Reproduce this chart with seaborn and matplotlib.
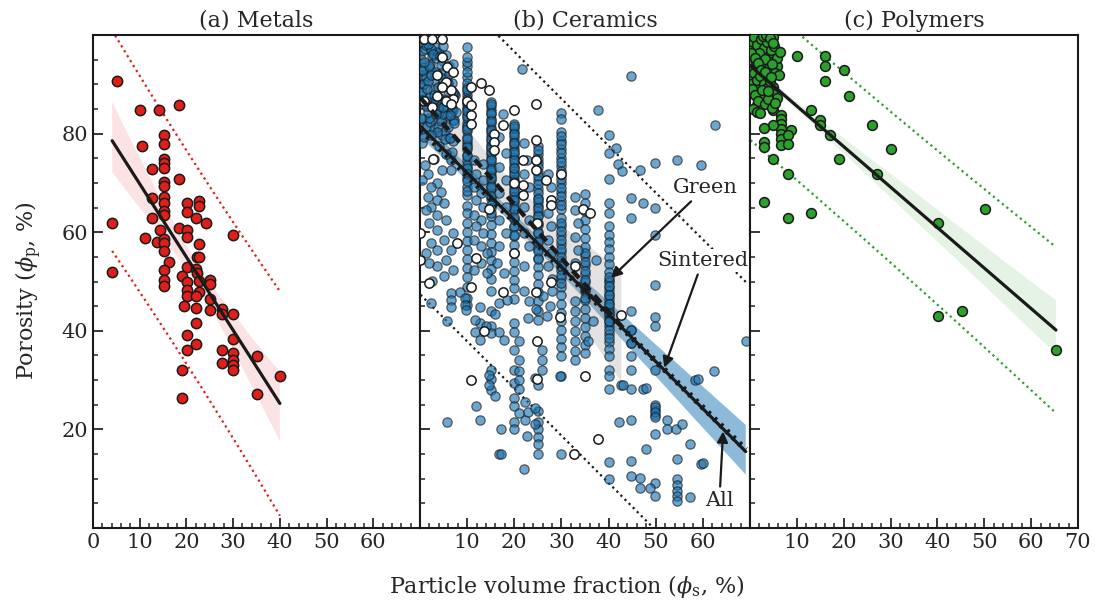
import numpy as np
import matplotlib
matplotlib.use("Agg")
import matplotlib.pyplot as plt
import seaborn as sns
from matplotlib.ticker import MultipleLocator, FixedLocator

sns.set_theme(style="ticks")
plt.rcParams['font.family'] = ['DejaVu Serif']
plt.rcParams['mathtext.fontset'] = 'dejavuserif'

# ---------------- data: (a) Metals ----------------
metals_x = [5.2, 10.1, 14.1, 18.5, 10.5, 15.1, 15.1, 15.1, 15.1, 15.1,
            12.6, 18.5, 15.1, 15.1, 12.6, 15.1, 15.1, 15.1, 15.1, 20.1,
            20.1, 22.6, 22.6, 12.6, 22.1, 24.1, 4.1, 14.3, 18.5, 20.1,
            20.1, 11.1, 13.8, 15.1, 15.1, 15.1, 30.0, 22.6, 22.2, 22.6,
            16.2, 20.1, 22.1, 15.1, 22.2, 19.1, 22.6, 20.1, 25.0, 25.0,
            15.1, 15.1, 20.1, 22.6, 20.1, 22.1, 25.0, 19.4, 22.1, 25.0,
            27.6, 27.6, 30.0, 22.1, 4.1, 20.1, 22.1, 30.0, 20.1, 27.6,
            30.0, 30.0, 35.0, 27.6, 30.0, 30.0, 19.1, 40.0, 35.0, 19.1]
metals_y = [90.7, 84.7, 84.7, 85.8, 77.4, 79.8, 77.8, 74.8, 74.0, 73.0,
            72.9, 70.8, 70.1, 69.4, 66.9, 67.2, 65.9, 64.4, 63.5, 65.9,
            64.0, 66.4, 65.4, 62.9, 62.9, 61.9, 61.9, 60.5, 60.9, 60.5,
            59.1, 58.9, 58.0, 58.7, 57.9, 56.2, 59.4, 57.6, 55.0, 55.0,
            54.0, 53.0, 52.6, 52.3, 51.8, 51.1, 50.1, 50.0, 50.3, 49.5,
            50.4, 49.1, 48.3, 47.9, 47.1, 47.0, 46.4, 45.0, 44.6, 44.3,
            44.4, 43.4, 43.4, 41.5, 52.0, 39.2, 37.4, 38.3, 36.1, 36.2,
            35.4, 34.0, 34.9, 33.4, 33.0, 32.0, 32.1, 30.9, 27.2, 26.4]

# ---------------- data: (b) Ceramics, sintered (stacked columns) ----------------
sint_col_x = [10.0, 15.0, 20.0, 25.0, 30.0, 35.0, 40.0, 44.7, 49.8, 54.6]
sint_y_x10 = [97.6, 93.8, 89.5, 87.8, 86.1, 84.0, 82.2, 80.5, 78.3, 76.9, 74.6, 72.8, 71.0, 69.2,
              67.5, 65.4, 63.8, 61.9, 60.1, 58.3, 56.4, 54.6, 52.7, 50.9, 48.8, 46.6, 45.3,
              94.5, 91.5, 88.6, 85.2, 83.1, 81.3, 79.4, 77.6, 75.7, 73.6,
              81.6, 79.0, 77.2, 75.5, 73.1, 71.9, 70.3, 68.4,
              95.6, 92.4, 90.3, 87.1, 85.0, 83.5, 81.0, 89.0, 86.5, 84.5]
sint_y_x15 = [86.5, 84.8, 83.0, 81.2, 79.5, 77.6, 75.9, 74.0, 72.2, 70.5, 68.7, 66.8, 65.0, 63.2,
              61.5, 59.6, 57.8, 56.0, 54.3, 52.5, 50.6, 48.0, 44.0, 41.0, 39.5, 32.0, 30.3, 28.0,
              85.6, 83.9, 82.1, 80.3, 78.6, 76.8, 75.0, 73.1, 71.3, 69.6,
              76.3, 74.6, 72.7, 70.9, 69.2, 67.4, 65.6, 63.9,
              86.0, 84.2, 82.5, 80.8, 79.0, 77.2]
sint_y_x20 = [82.0, 80.3, 78.5, 76.8, 75.0, 73.2, 71.5, 69.7, 68.0, 66.2, 64.5, 62.7, 61.0, 59.2,
              57.4, 55.7, 53.9, 52.2, 50.4, 48.7, 46.5, 41.5, 39.8, 36.1, 32.0, 29.5, 26.4, 24.7,
              21.6, 20.0, 81.2, 79.4, 77.7, 75.9, 74.1, 72.4, 70.6, 68.9, 67.1, 65.4,
              71.8, 70.1, 68.3, 66.6, 64.8, 63.0, 61.3, 59.5,
              81.5, 79.9, 78.0, 76.3, 74.6, 73.0]
sint_y_x25 = [77.5, 75.8, 74.0, 72.3, 70.5, 68.8, 67.0, 65.3, 63.5, 61.8, 60.0, 58.3, 56.5, 54.8,
              53.0, 51.3, 49.5, 47.8, 46.0, 44.0, 42.2, 29.0, 23.7, 21.4, 20.0, 18.5, 17.0, 15.0,
              76.7, 74.9, 73.2, 71.4, 69.7, 67.9, 66.2, 64.4,
              66.8, 65.0, 63.3, 61.5, 59.8, 58.0, 56.2, 54.5]
sint_y_x30 = [84.1, 80.3, 78.6, 76.9, 75.1, 73.4, 71.6, 69.9, 68.1, 66.4, 64.7, 62.9, 61.2, 59.4,
              57.7, 55.9, 54.2, 52.4, 50.7, 48.9, 47.2, 45.4, 43.7, 41.9, 40.2, 38.4, 36.7, 34.9,
              30.8, 15.0, 83.0, 79.5, 77.8, 76.0, 74.3, 72.5, 70.8, 69.0, 67.3, 65.6,
              61.9, 60.2, 58.4, 56.6, 54.9, 53.1, 51.4, 49.6]
sint_y_x35 = [67.8, 66.0, 64.2, 62.4, 60.6, 58.8, 57.0, 55.2, 53.4, 51.6, 49.8, 48.0, 46.2, 44.4,
              42.6, 40.8, 39.0, 37.2, 35.4, 55.8, 53.9, 52.1, 50.3, 48.5, 46.7]
sint_y_x40 = [79.8, 76.0, 70.8, 65.9, 63.8, 61.2, 59.5, 58.1, 56.5, 55.0, 53.5, 52.0, 50.3, 48.8,
              47.2, 45.6, 44.0, 42.5, 41.0, 39.4, 37.8, 36.3, 34.8, 32.1, 30.8, 28.1, 13.3, 9.9,
              50.0, 48.0, 46.5, 44.8, 43.2, 41.8, 40.2, 38.6,
              50.9, 49.1, 47.3, 45.5, 43.7, 41.9]
sint_y_x45 = [44.1, 40.2, 37.5, 34.8, 32.1, 28.1, 40.2, 37.5]
sint_y_x50 = [74.0, 64.9, 59.5, 49.3, 42.8, 40.9, 32.1, 25.0, 24.0, 23.0, 19.0, 9.1, 6.5,
              24.5, 23.5, 22.5]
sint_y_x55 = [10.0, 8.8, 7.6, 6.4, 5.4]
sint_col_y = [sint_y_x10, sint_y_x15, sint_y_x20, sint_y_x25, sint_y_x30,
              sint_y_x35, sint_y_x40, sint_y_x45, sint_y_x50, sint_y_x55]

# ---------------- data: (b) Ceramics, sintered (scattered) ----------------
sint_pts_x = [0.5, 0.5, 0.5, 0.5, 2.3, 4.7, 6.9, 6.9, 4.7, 2.6,
              0.5, 6.5, 4.7, 6.5, 1.6, 0.5, 3.7, 2.3, 4.4, 1.6,
              3.7, 5.1, 2.3, 1.2, 3.7, 5.5, 2.0, 3.7, 6.9, 5.1,
              2.3, 3.7, 6.5, 1.2, 5.5, 3.7, 2.0, 6.9, 5.1, 2.6,
              11.5, 13.3, 11.8, 13.3, 11.5, 12.9, 11.8, 13.3, 11.5, 12.9,
              11.8, 13.3, 11.5, 12.9, 14.3, 12.9, 14.3, 11.5,
              17.5, 16.8, 18.2, 16.8, 18.2, 16.8, 18.2, 16.8, 18.2, 16.8, 16.4, 17.9,
              22.1, 22.8, 22.1, 23.2, 22.1, 23.2, 22.1, 23.2, 22.1, 21.6,
              27.1, 27.8, 27.1, 27.8, 27.1, 27.8, 27.1, 28.1,
              32.9, 32.9, 33.6, 32.9, 33.6, 32.9, 32.9, 32.9, 32.9, 32.9, 32.9, 32.9, 32.9,
              44.8, 37.7, 41.6, 42.1, 42.8, 46.6, 54.5, 59.6, 62.6, 44.8, 47.2, 44.8, 37.3,
              36.7, 35.6, 42.7, 47.2, 52.3, 52.3, 54.4,
              55.5, 58.4, 62.4, 57.2, 59.6, 54.5, 47.9, 44.8, 42.2, 44.8, 44.8, 46.7, 46.7,
              48.8, 57.2, 60.1, 59.0, 43.0, 48.0, 69.1,
              2.4, 5.8, 6.5, 6.5, 6.5, 8.5, 9.5, 9.5, 9.7, 12.8, 12.8, 11.6, 11.6, 12.8,
              14.0, 16.8, 17.9, 16.8, 15.9, 18.5, 5.8, 11.8, 12.8, 15.9, 14.7, 14.7, 17.2,
              16.8, 17.2, 22.1, 22.8, 22.3, 21.0, 21.0, 21.0, 21.0, 21.0, 21.0, 22.3, 23.0,
              25.8, 25.8, 25.8, 24.4, 24.4, 24.4, 29.8,
              22.1, 23.2, 24.5, 26.0, 27.5, 27.0, 23.0, 28.0]
sint_pts_y = [96.8, 93.5, 91.8, 89.7, 96.8, 92.5, 84.7, 82.7, 82.7, 83.0,
              78.0, 74.6, 72.6, 72.6, 71.9, 70.6, 69.9, 69.2, 68.2, 67.2,
              66.5, 65.9, 65.2, 64.5, 63.5, 62.5, 61.8, 60.5, 59.8, 58.5,
              57.8, 56.4, 56.4, 55.8, 54.4, 53.1, 53.7, 52.4, 51.1, 50.1,
              74.6, 73.9, 71.9, 70.6, 69.2, 67.9, 66.5, 65.2, 63.5, 62.5,
              61.2, 59.8, 58.5, 57.1, 55.8, 53.7, 51.8, 52.4,
              84.0, 79.3, 76.0, 73.3, 70.6, 67.9, 65.2, 62.5, 59.8, 57.1, 53.7, 51.8,
              78.0, 74.6, 71.9, 69.2, 65.2, 62.5, 59.8, 57.1, 53.1, 93.1,
              71.9, 69.2, 63.9, 61.2, 58.5, 55.8, 53.1, 50.5,
              67.2, 64.5, 61.8, 59.1, 56.4, 53.7, 46.0, 44.0, 42.0, 40.0, 38.0, 36.0, 34.0,
              91.7, 84.7, 77.1, 73.9, 72.4, 72.7, 74.7, 73.7, 81.7, 66.9, 65.9, 62.9, 54.4,
              41.9, 38.0, 29.0, 28.1, 22.0, 20.0, 20.0,
              21.0, 30.1, 31.9, 17.0, 12.9, 13.9, 16.0, 13.6, 21.4, 22.0, 10.6, 10.1, 8.1,
              8.1, 6.2, 13.2, 30.3, 29.0, 28.3, 38.0,
              45.7, 42.0, 47.6, 46.2, 44.9, 47.9, 46.6, 45.3, 44.2, 44.9, 41.5, 42.2, 39.8, 38.2,
              40.9, 39.8, 38.2, 45.7, 43.4, 46.3, 21.4, 24.7, 22.0, 26.7, 31.0, 29.0, 20.0,
              15.0, 15.0, 12.0, 18.6, 22.0, 38.0, 34.1, 31.8, 30.1, 28.1, 23.4, 25.6, 23.6,
              36.2, 34.1, 32.1, 30.4, 24.4, 21.0, 30.8,
              48.0, 46.0, 44.5, 47.0, 45.0, 43.0, 42.5, 48.0]

# sintered points packed under the open (green) markers, top-left corner
sint_corner_x = [0.3, 1.0, 1.8, 2.5, 3.2, 4.0, 4.8, 5.5, 6.2, 7.0,
                 0.5, 1.3, 2.1, 2.9, 3.6, 4.4, 5.2, 6.0, 6.8, 7.5,
                 0.2, 1.1, 1.9, 2.7, 3.4, 4.2, 5.0, 5.8, 6.6, 7.3,
                 0.6, 1.4, 2.2, 3.0, 3.8, 4.6, 5.4, 6.2, 7.0, 0.9,
                 0.4, 1.2, 2.0, 2.8, 3.6, 4.4, 5.2, 6.0, 6.8, 0.8,
                 1.6, 2.4, 3.2, 4.0, 4.8, 5.6, 6.4, 7.2, 1.0, 3.0,
                 0.2, 0.7, 1.2, 1.7, 2.2, 2.7, 3.2, 3.7, 4.2, 4.7,
                 5.2, 5.7, 6.2, 6.7, 7.2, 7.7, 0.4, 0.9, 1.4, 1.9,
                 2.4, 2.9, 3.4, 3.9, 4.4, 4.9, 5.4, 5.9, 6.4, 6.9,
                 0.3, 0.8, 1.3, 1.8, 2.3, 2.8, 3.3, 3.8, 4.3, 4.8]
sint_corner_y = [98.5, 97.2, 99.0, 95.8, 97.5, 96.3, 94.8, 95.9, 93.7, 94.2,
                 92.6, 91.4, 93.3, 90.8, 92.1, 89.6, 91.0, 88.7, 90.2, 87.9,
                 88.3, 86.9, 87.5, 85.8, 86.4, 84.7, 85.5, 83.6, 84.2, 82.8,
                 83.0, 81.6, 82.4, 80.9, 81.3, 79.8, 80.6, 79.2, 78.5, 79.4,
                 88.5, 86.0, 83.2, 85.1, 80.4, 82.6, 78.9, 81.3, 76.2, 90.1,
                 84.4, 79.7, 87.0, 77.5, 84.0, 75.8, 79.1, 82.2, 73.6, 74.8,
                 95.2, 92.8, 97.9, 90.6, 94.1, 88.9, 92.5, 96.6, 87.3, 91.2,
                 89.7, 86.4, 92.0, 85.1, 88.0, 84.3, 86.8, 99.4, 89.1, 93.7,
                 97.1, 87.8, 95.4, 84.9, 93.9, 97.8, 86.9, 90.3, 83.7, 88.4,
                 83.2, 94.6, 85.6, 98.2, 91.9, 96.1, 83.9, 89.5, 95.7, 85.4]

# ---------------- data: (b) Ceramics, green ----------------
green_x = [0.8, 2.6, 4.7, 4.7, 5.8, 6.9, 3.7, 5.5, 4.7, 3.7,
           6.5, 6.9, 0.8, 5.5, 6.5, 2.6, 10.8, 12.9, 14.7, 9.9,
           10.8, 10.8, 10.8, 20.0, 17.5, 15.7, 15.7, 15.7, 24.6, 24.6,
           24.6, 24.6, 26.7, 21.8, 21.8, 21.8, 20.0, 30.0, 27.8, 27.8,
           2.8, 14.7, 7.9, 11.8, 20.0, 24.9, 32.8, 34.5, 0.1, 0.1,
           36.0, 10.8, 17.5, 24.6, 27.8, 29.8, 13.6, 24.8, 10.8, 34.9,
           32.6, 1.9, 42.7, 37.7, 24.8]
green_y = [99.2, 99.2, 99.2, 95.5, 93.5, 92.5, 91.8, 90.4, 89.4, 87.7,
           88.8, 87.1, 86.7, 86.7, 86.1, 85.4, 89.4, 90.2, 88.8, 86.7,
           85.7, 83.7, 82.0, 84.7, 81.7, 80.0, 78.3, 76.6, 86.1, 78.7,
           74.6, 72.6, 70.6, 74.6, 69.6, 67.5, 69.9, 71.9, 66.5, 65.5,
           74.9, 64.8, 57.8, 54.8, 55.8, 61.9, 53.1, 64.8, 59.8, 54.4,
           63.8, 48.9, 47.9, 47.9, 50.0, 42.9, 39.9, 37.9, 30.1, 30.8,
           15.0, 49.6, 43.2, 18.1, 30.3]

# ---------------- data: (c) Polymers ----------------
poly_x = [0.4, 0.7, 2.5, 4.3, 5.0, 1.4, 3.9, 5.0, 2.1, 1.1,
          2.9, 0.7, 3.2, 5.0, 5.0, 5.0, 5.0, 2.1, 1.6, 5.0,
          5.7, 10.1, 16.1, 16.1, 20.1, 16.1, 21.1, 13.0, 15.0, 15.0,
          17.0, 26.1, 30.1, 19.0, 27.0, 6.6, 6.6, 6.6, 6.6, 6.6,
          6.6, 6.6, 5.0, 3.0, 8.7, 8.1, 8.1, 3.0, 3.0, 5.0,
          8.1, 3.0, 13.0, 8.1, 40.1, 50.2, 40.1, 45.2, 65.3,
          0.3, 1.0, 1.8, 3.0, 4.0, 0.5, 2.0, 3.5, 4.5, 1.2, 0.2, 1.5, 4.0, 2.6]
poly_y = [99.5, 99.1, 98.1, 97.8, 99.5, 96.8, 95.8, 96.1, 94.4, 92.8,
          91.7, 91.4, 89.7, 89.4, 88.4, 87.4, 86.7, 87.7, 85.9, 84.7,
          93.8, 95.8, 95.8, 93.8, 92.8, 90.7, 87.7, 84.7, 82.8, 81.7,
          79.8, 81.7, 76.8, 74.8, 71.8, 83.7, 83.0, 82.0, 81.0, 80.0,
          79.0, 77.7, 81.7, 81.2, 80.8, 79.8, 77.8, 78.3, 77.2, 74.8,
          71.8, 66.1, 63.9, 62.9, 61.9, 64.8, 43.1, 44.0, 36.1,
          97.0, 98.3, 99.3, 99.6, 99.0, 95.0, 96.2, 93.2, 94.6, 93.6, 90.0, 89.0, 91.0, 97.0]
# overlapping points inside the dense top-left blob
poly_blob_x = [0.2, 0.9, 1.6, 2.3, 3.0, 3.7, 4.4, 5.1, 5.8, 6.5,
               0.5, 1.2, 1.9, 2.6, 3.3, 4.0, 4.7, 5.4, 6.1, 0.1,
               0.8, 1.5, 2.2, 2.9, 3.6, 4.3, 5.0, 5.7, 0.4, 1.1,
               1.8, 2.5, 3.2, 3.9, 4.6, 5.3, 0.7, 1.4, 2.1, 2.8,
               3.5, 4.2, 4.9, 0.3, 1.0, 1.7, 2.4, 3.1, 3.8, 4.5]
poly_blob_y = [98.8, 99.6, 98.0, 99.2, 97.4, 98.6, 96.9, 97.7, 95.4, 96.6,
               95.9, 94.7, 96.4, 93.9, 95.1, 93.3, 94.1, 92.2, 91.8, 93.0,
               92.3, 90.9, 91.6, 90.1, 89.3, 90.6, 88.1, 87.2, 89.0, 87.8,
               86.6, 88.9, 86.0, 87.1, 85.2, 86.3, 85.0, 84.4, 84.1, 99.7,
               100.0, 99.4, 98.4, 96.3, 95.3, 94.3, 92.9, 92.5, 88.7, 91.5]

panel_titles = ["(a) Metals", "(b) Ceramics", "(c) Polymers"]
x_tick_sets = [[0, 10, 20, 30, 40, 50, 60], [10, 20, 30, 40, 50, 60],
               [10, 20, 30, 40, 50, 60, 70]]
y_ticks = [20, 40, 60, 80]


# ---------------- helpers ----------------
def pred_band(ax, x, y, color):
    x = np.asarray(x, float); y = np.asarray(y, float)
    n = len(x)
    b, a = np.polyfit(x, y, 1)
    s = np.sqrt(np.sum((y - (a + b * x)) ** 2) / (n - 2))
    xm = x.mean(); sxx = np.sum((x - xm) ** 2)
    xs = np.linspace(x.min(), x.max(), 300)
    half = 1.96 * s * np.sqrt(1 + 1 / n + (xs - xm) ** 2 / sxx)
    yh = a + b * xs
    for sgn in (1, -1):
        ax.plot(xs, yh + sgn * half, ls=(0, (1, 1.6)), color=color, lw=1.6, zorder=2.5)


def reg(ax, x, y, band_color, band_alpha, ls='-', lw=2.3, ci=95):
    n0 = len(ax.collections)
    nl = len(ax.lines)
    sns.regplot(x=np.asarray(x, float), y=np.asarray(y, float), ax=ax, scatter=False,
                ci=ci, color=band_color, seed=3, truncate=True,
                line_kws=dict(ls=ls, lw=lw, zorder=5))
    for ln in ax.lines[nl:]:
        ln.set_color('k')
    for c in ax.collections[n0:]:
        c.set_facecolor(band_color)
        c.set_edgecolor('none')
        c.set_alpha(band_alpha)
        c.set_zorder(1)


W, H = 1095, 605
fig = plt.figure(figsize=(W / 100, H / 100), dpi=100)
bounds = [(93, 420), (420, 750), (750, 1078)]
axes = [fig.add_axes([a / W, 1 - 528 / H, (b - a) / W, (528 - 35) / H]) for a, b in bounds]
ax1, ax2, ax3 = axes

# (a) Metals
red = '#e01f1b'
reg(ax1, metals_x, metals_y, red, 0.12)
pred_band(ax1, metals_x, metals_y, red)
sns.scatterplot(x=metals_x, y=metals_y, ax=ax1, color=red, edgecolor='k', linewidth=1.1,
                s=55, zorder=3, legend=False)

# (b) Ceramics
sint_x = np.concatenate([np.full(len(ys), cx) for cx, ys in zip(sint_col_x, sint_col_y)]
                        + [np.asarray(sint_pts_x), np.asarray(sint_corner_x)])
sint_y = np.concatenate([np.asarray(ys) for ys in sint_col_y]
                        + [np.asarray(sint_pts_y), np.asarray(sint_corner_y)])
all_x = np.concatenate([sint_x, green_x])
all_y = np.concatenate([sint_y, green_y])

blue = '#1f77b4'
reg(ax2, all_x, all_y, blue, 0.5, ls='-', lw=2.3)
reg(ax2, sint_x, sint_y, blue, 0.0, ls=(0, (0.5, 1.0)), lw=4.2, ci=None)
reg(ax2, green_x, green_y, '0.55', 0.25, ls=(0, (2.2, 1.5)), lw=3.2)
pred_band(ax2, all_x, all_y, 'k')
sns.scatterplot(x=sint_x, y=sint_y, ax=ax2, color=blue, edgecolor='k', linewidth=0.9,
                s=45, alpha=0.65, zorder=3, legend=False)
sns.scatterplot(x=green_x, y=green_y, ax=ax2, color='white', edgecolor='k', linewidth=1.1,
                s=45, zorder=3.5, legend=False)

arrow = dict(arrowstyle='-|>', color='k', lw=1.6, mutation_scale=16, shrinkA=2, shrinkB=0)
tbox = dict(fc='white', ec='none', pad=1.5)
ax2.annotate('Green', xy=(40.5, 50.7), xytext=(60.5, 69.0), ha='center', va='center',
             fontsize=15, arrowprops=arrow, bbox=tbox, zorder=7)
ax2.annotate('Sintered', xy=(51.8, 32.5), xytext=(60.0, 54.3), ha='center', va='center',
             fontsize=15, arrowprops=arrow, bbox=tbox, zorder=7)
ax2.annotate('All', xy=(64.3, 19.6), xytext=(63.5, 5.5), ha='center', va='center',
             fontsize=15, arrowprops=arrow, bbox=tbox, zorder=7)

# (c) Polymers
green = '#2ca02c'
px = list(poly_x) + list(poly_blob_x)
py = list(poly_y) + list(poly_blob_y)
reg(ax3, px, py, green, 0.12, ci=68)
pred_band(ax3, px, py, green)
sns.scatterplot(x=px, y=py, ax=ax3, color=green, edgecolor='k', linewidth=1.1,
                s=50, zorder=3, legend=False)

# axes styling
for i, ax in enumerate(axes):
    ax.set_xlim(0, 70)
    ax.set_ylim(0, 100)
    ax.xaxis.set_major_locator(FixedLocator(x_tick_sets[i]))
    ax.xaxis.set_minor_locator(MultipleLocator(2))
    ax.yaxis.set_major_locator(FixedLocator(y_ticks))
    ax.yaxis.set_minor_locator(MultipleLocator(5))
    ax.tick_params(which='both', direction='in', top=False, right=False, labelsize=15)
    ax.tick_params(which='major', length=7, width=1.3)
    ax.tick_params(which='minor', length=3.5, width=1.1)
    for sp in ax.spines.values():
        sp.set_linewidth(1.5)
        sp.set_color('k')
    ax.set_xlabel('')
    ax.set_ylabel('')
    ax.set_title(panel_titles[i], fontsize=16, pad=6)
    if i > 0:
        ax.tick_params(labelleft=False)

fig.text(0.518, 0.03, r'Particle volume fraction ($\phi_{\rm s}$, %)', ha='center',
         va='center', fontsize=16)
fig.text(0.026, 0.52, r'Porosity ($\phi_{\rm p}$, %)', ha='center', va='center',
         rotation=90, fontsize=16)

fig.savefig('out.png', dpi=100)
